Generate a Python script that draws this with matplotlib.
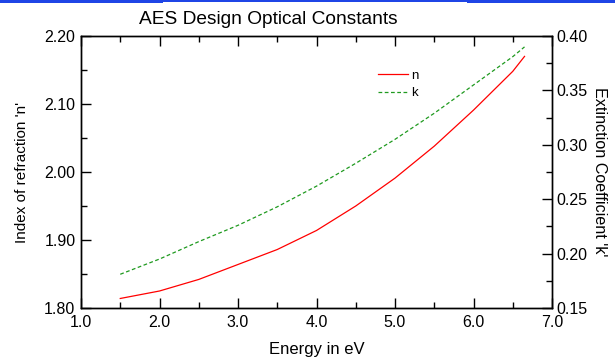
import matplotlib
matplotlib.use("Agg")
import matplotlib.pyplot as plt
from matplotlib.patches import Rectangle
from matplotlib.ticker import MultipleLocator, FormatStrFormatter

plt.rcParams['font.family'] = ['Liberation Sans', 'DejaVu Sans']

# Optical constants vs photon energy
energy = [1.5, 2.0, 2.5, 3.0, 3.5, 4.0, 4.5, 5.0, 5.5, 6.0, 6.5, 6.65]
n_vals = [1.814, 1.825, 1.842, 1.864, 1.886, 1.914, 1.950, 1.991, 2.038, 2.091, 2.148, 2.170]
k_vals = [0.181, 0.195, 0.211, 0.226, 0.243, 0.262, 0.283, 0.305, 0.329, 0.355, 0.381, 0.390]

title = "AES Design Optical Constants"
xlabel = "Energy in eV"
ylabel_left = "Index of refraction 'n'"
ylabel_right = "Extinction Coefficient 'k'"

fig = plt.figure(figsize=(6.15, 3.57), dpi=100)
ax = fig.add_axes([81 / 615, 1 - 308 / 357, 471 / 615, 272 / 357])
ax2 = ax.twinx()

# thin blue banner along the top edge
banner = '#1f45e6'
fig.patches.append(Rectangle((0, 1 - 3 / 357), 163 / 615, 3 / 357,
                             transform=fig.transFigure, color=banner, lw=0))
fig.patches.append(Rectangle((163 / 615, 1 - 1.5 / 357), 305 / 615, 1.5 / 357,
                             transform=fig.transFigure, color=banner, lw=0))
fig.patches.append(Rectangle((467 / 615, 1 - 3 / 357), 148 / 615, 3 / 357,
                             transform=fig.transFigure, color=banner, lw=0))

ln_n, = ax.plot(energy, n_vals, color='#ff0000', lw=0.9, label='n')
ln_k, = ax2.plot(energy, k_vals, color='#1f9a1f', lw=0.9, ls=(0, (3, 2)), label='k')

ax.set_xlim(1.0, 7.0)
ax.set_ylim(1.80, 2.20)
ax2.set_ylim(0.15, 0.40)

ax.xaxis.set_major_locator(MultipleLocator(1.0))
ax.xaxis.set_minor_locator(MultipleLocator(0.5))
ax.xaxis.set_major_formatter(FormatStrFormatter('%.1f'))
ax.yaxis.set_major_locator(MultipleLocator(0.1))
ax.yaxis.set_minor_locator(MultipleLocator(0.05))
ax.yaxis.set_major_formatter(FormatStrFormatter('%.2f'))
ax2.yaxis.set_major_locator(MultipleLocator(0.05))
ax2.yaxis.set_minor_locator(MultipleLocator(0.025))
ax2.yaxis.set_major_formatter(FormatStrFormatter('%.2f'))

for a in (ax, ax2):
    for s in a.spines.values():
        s.set_linewidth(1.0)
ax.tick_params(axis='x', which='both', direction='in', top=True, labelsize=11.5, pad=5)
ax.tick_params(axis='y', which='both', direction='in', labelsize=11.5, pad=4)
ax2.tick_params(axis='y', which='both', direction='in', labelsize=11.5, pad=3)
for a in (ax, ax2):
    a.tick_params(which='major', length=7, width=1.0)
    a.tick_params(which='minor', length=4.5, width=1.0)

ax.set_xlabel(xlabel, fontsize=12, labelpad=9)
ax.set_ylabel(ylabel_left, fontsize=11, labelpad=11)
ax2.set_ylabel(ylabel_right, fontsize=11.6, rotation=-90, labelpad=14)

fig.text(268 / 615, 1 - 20 / 357, title, fontsize=13.75, ha='center', va='center')

ax.legend([ln_n, ln_k], ['n', 'k'], loc='upper left', bbox_to_anchor=(0.63, 0.877),
          frameon=False, fontsize=9.5, handlelength=2.3, handletextpad=0.25,
          labelspacing=0.4, borderpad=0, borderaxespad=0)

fig.savefig('out.png', dpi=100)
